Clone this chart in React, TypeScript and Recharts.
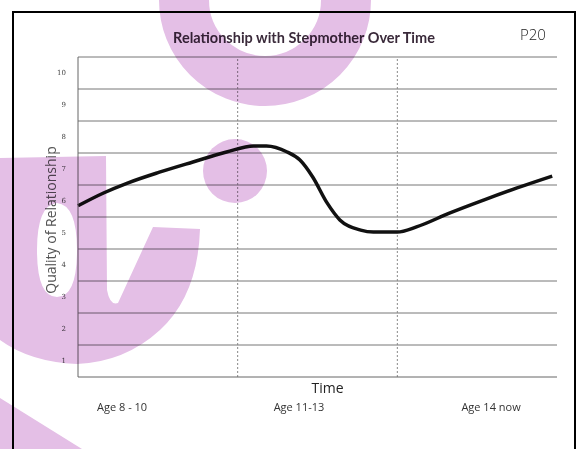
import React from 'react';
import {
  LineChart,
  Line,
  XAxis,
  YAxis,
  ReferenceLine,
  Label,
} from 'recharts';

// time runs 0..3 (one unit per age band), quality 1..10
const timePoints = [0, 0.16, 0.31, 0.51, 0.72, 0.93, 1.1, 1.18, 1.31, 1.39, 1.47, 1.56, 1.64, 1.77, 1.85, 2.0, 2.12, 2.33, 2.54, 2.75, 2.97];
const quality = [5.85, 6.25, 6.56, 6.9, 7.22, 7.53, 7.72, 7.72, 7.53, 7.28, 6.75, 5.94, 5.41, 5.09, 5.03, 5.03, 5.19, 5.63, 6.03, 6.41, 6.78];

const yTicks = [1, 2, 3, 4, 5, 6, 7, 8, 9, 10];
const gridValues = [1.5, 2.5, 3.5, 4.5, 5.5, 6.5, 7.5, 8.5, 9.5, 10.5];
const bandDividers = [1, 2];
const ageLabels = ['Age 8 - 10', 'Age 11-13', 'Age 14 now'];
const ageLabelPositions = [0.276, 1.384, 2.587];

const data = timePoints.map((t, i) => ({ t, q: quality[i] }));

const PINK = '#e4bfe6';

function Watermark() {
  return (
    <svg
      width={576}
      height={449}
      style={{ position: 'absolute', left: 0, top: 0, mixBlendMode: 'multiply', pointerEvents: 'none' }}
    >
      <circle cx={265} cy={0} r={81} fill="none" stroke={PINK} strokeWidth={50} />
      <circle cx={235} cy={171} r={32} fill={PINK} />
      <path
        fillRule="evenodd"
        fill={PINK}
        d="M0 158 L106 156 L107 290 Q110 306 118 303 L153 227 L200 229 Q198 295 160 330 Q125 362 77 364 Q30 362 0 340 Z M57 203 Q37 205 37 250 Q37 297 57 297 Q77 297 77 250 Q77 205 57 203 Z"
      />
      <polygon points="0,398 82,449 0,449" fill={PINK} />
    </svg>
  );
}

export default function App() {
  return (
    <div style={{ position: 'absolute', left: 0, top: 0, width: 576, height: 449, background: '#fff', overflow: 'hidden' }}>
      <div
        style={{
          position: 'absolute',
          left: 12,
          top: 11,
          width: 564,
          height: 450,
          boxSizing: 'border-box',
          borderTop: '2px solid #000',
          borderLeft: '2px solid #000',
          borderRight: '2px solid #000',
        }}
      />
      <div
        style={{
          position: 'absolute',
          left: 0,
          top: 29,
          width: 608,
          textAlign: 'center',
          fontFamily: 'Lato',
          fontWeight: 700,
          fontSize: 14.5,
          color: '#3a2a3a',
        }}
      >
        Relationship with Stepmother Over Time
      </div>
      <div
        style={{
          position: 'absolute',
          left: 520,
          top: 24,
          fontFamily: 'Open Sans',
          fontWeight: 300,
          fontSize: 15,
          color: '#222',
        }}
      >
        P20
      </div>
      <div style={{ position: 'absolute', left: 0, top: 0 }}>
        <LineChart width={576} height={449} data={data} margin={{ top: 57, right: 19, bottom: 0, left: 0 }}>
          <XAxis
            dataKey="t"
            type="number"
            domain={[0, 3]}
            ticks={ageLabelPositions}
            tickFormatter={(v: number) => ageLabels[ageLabelPositions.indexOf(v)] ?? ''}
            tickLine={false}
            tickSize={0}
            tickMargin={26}
            height={72}
            axisLine={{ stroke: '#666' }}
            tick={{ fill: '#333', fontSize: 11, fontFamily: 'Open Sans' }}
            interval={0}
          >
            <Label value="Time" position="insideTop" offset={6} dx={10} fill="#222" fontSize={14} fontFamily="Open Sans" />
          </XAxis>
          <YAxis
            type="number"
            domain={[0.5, 10.5]}
            ticks={yTicks}
            width={78}
            tickLine={false}
            tickSize={0}
            tickMargin={12}
            axisLine={{ stroke: '#666' }}
            tick={{ fill: '#444', fontSize: 7, fontFamily: 'DejaVu Serif' }}
            interval={0}
          >
            <Label
              value="Quality of Relationship"
              angle={-90}
              position="center"
              dx={12}
              dy={3}
              fill="#555"
              fontSize={14}
              fontFamily="Open Sans"
            />
          </YAxis>
          {gridValues.map((v) => (
            <ReferenceLine key={v} y={v} stroke="#777" strokeWidth={1} ifOverflow="extendDomain" />
          ))}
          {bandDividers.map((v) => (
            <ReferenceLine key={v} x={v} stroke="#888" strokeWidth={1} strokeDasharray="2 2" />
          ))}
          <Line
            type="monotone"
            dataKey="q"
            stroke="#111"
            strokeWidth={3.5}
            dot={false}
            isAnimationActive={false}
          />
        </LineChart>
      </div>
      <Watermark />
    </div>
  );
}
